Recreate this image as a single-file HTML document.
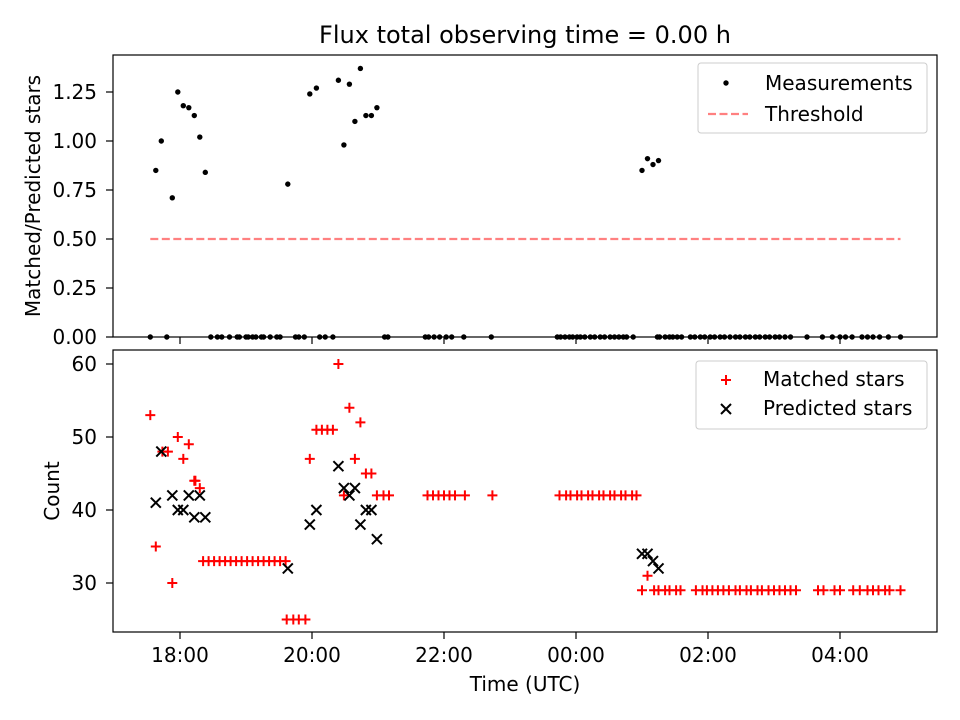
<!DOCTYPE html>
<html><head><meta charset="utf-8"><style>
body{margin:0;background:#fff}
svg{display:block;font-family:"DejaVu Sans","Liberation Sans",sans-serif}
</style></head><body>
<svg id="c" width="960" height="720" viewBox="0 0 960 720"></svg>
<script>
// minutes from 18:00
const ratioTimes=[-22,-17,-7,-2,3,8,13,18,23,98,118,124,144,149,154,159,164,169,174,179,420,425,430,435];
const ratioValues=[0.85,1.0,0.71,1.25,1.18,1.17,1.13,1.02,0.84,0.78,1.24,1.27,1.31,0.98,1.29,1.10,1.37,1.13,1.13,1.17,0.85,0.91,0.88,0.90];
const zeroTimes=[-27,-12,28,34,38,45,52,54,60,62,66,69,74,76,82,88,91,105,108,113,127,132,139,186,189,223,226,231,236,242,247,258,283,343,346,350,354,357,361,364,368,373,377,382,386,391,395,399,403,406,412,434,436,441,445,448,452,456,464,468,473,477,482,486,491,495,500,505,509,514,518,523,527,532,536,541,545,550,555,570,584,593,600,605,611,620,625,630,636,644,655];
const threshold=0.5;
const thresholdRange=[-27,655];
const matchedTimes=[-27,-22,-16,-11,-7,-2,3,8,13,18,14,21,26,31,36,41,46,51,56,61,66,71,76,81,86,91,96,97,103,108,114,118,124,129,134,139,144,149,154,159,164,169,174,179,185,190,225,230,235,240,245,250,259,284,345,351,355,361,365,371,375,381,385,391,395,401,405,411,415,425,420,431,435,441,445,451,455,469,475,479,484,489,494,499,505,509,515,519,525,529,535,540,545,550,555,560,580,585,595,600,612,618,625,630,635,641,645,655];
const matchedValues=[53,35,48,48,30,50,47,49,44,43,44,33,33,33,33,33,33,33,33,33,33,33,33,33,33,33,33,25,25,25,25,47,51,51,51,51,60,42,54,47,52,45,45,42,42,42,42,42,42,42,42,42,42,42,42,42,42,42,42,42,42,42,42,42,42,42,42,42,42,31,29,29,29,29,29,29,29,29,29,29,29,29,29,29,29,29,29,29,29,29,29,29,29,29,29,29,29,29,29,29,29,29,29,29,29,29,29,29];
const predTimes=[-22,-17,-7,-2,3,8,13,18,23,98,118,124,144,149,154,159,164,169,174,179,420,425,430,435];
const predValues=[41,48,42,40,40,42,39,42,39,32,38,40,46,43,42,43,38,40,40,36,34,34,33,32];
const xTickMin=[0,120,240,360,480,600];
const xTickLabels=["18:00","20:00","22:00","00:00","02:00","04:00"];
const topTicks=[0,0.25,0.5,0.75,1.0,1.25];
const botTicks=[30,40,50,60];

const S=document.getElementById('c'),NS="http://www.w3.org/2000/svg";
function el(t,a,p){const e=document.createElementNS(NS,t);for(const k in a)e.setAttribute(k,a[k]);(p||S).appendChild(e);return e;}
function tx(x,y,s,a,p){const e=el('text',Object.assign({x:x,y:y,'font-size':20,fill:'#000'},a||{}),p);e.textContent=s;return e;}
const X=m=>180+1.1*m;
const YT=r=>337-196*r;
const YB=c=>364+(60-c)*7.3;
const L=113,R=937;

const t=tx(525,43,"Flux total observing time = 0.00 h",{'font-size':24,'text-anchor':'middle'});


// top panel
const g1=el('g',{});
const th=el('line',{x1:X(thresholdRange[0]),x2:X(thresholdRange[1]),y1:YT(threshold),y2:YT(threshold),stroke:'#ff8080','stroke-width':2.2,'stroke-dasharray':'8,3.5'},g1);

zeroTimes.forEach(m=>{const c=el('circle',{cx:X(m),cy:YT(0),r:2.7,fill:'#000'},g1);});
ratioTimes.forEach((m,i)=>{const c=el('circle',{cx:X(m),cy:YT(ratioValues[i]),r:2.7,fill:'#000'},g1);});
el('rect',{x:L,y:55,width:R-L,height:282,fill:'none',stroke:'#000','stroke-width':1.2},g1);
topTicks.forEach(v=>{el('line',{x1:L-7,x2:L,y1:YT(v),y2:YT(v),stroke:'#000','stroke-width':1.2},g1);const l=tx(L-16,YT(v)+7,v.toFixed(2),{'text-anchor':'end'},g1);});
xTickMin.forEach(m=>el('line',{x1:X(m),x2:X(m),y1:337,y2:344,stroke:'#000','stroke-width':1.2},g1));
const yl1=tx(0,0,"Matched/Predicted stars",{'text-anchor':'middle',transform:'translate(40,196) rotate(-90)'});

const lg1=el('g',{});
el('rect',{x:698,y:63,width:229,height:70,rx:3,fill:'#fff',stroke:'#ccc'},lg1);
el('circle',{cx:726,cy:83,r:2.7,fill:'#000'},lg1);
tx(765,90,"Measurements",{},lg1);
el('line',{x1:708,x2:748,y1:114,y2:114,stroke:'#ff8080','stroke-width':2.2,'stroke-dasharray':'8,3.5'},lg1);
tx(765,121,"Threshold",{},lg1);

// bottom panel
const g2=el('g',{});
matchedTimes.forEach((m,i)=>{const x=X(m),y=YB(matchedValues[i]);const p=el('path',{d:`M${x-5},${y}H${x+5}M${x},${y-5}V${y+5}`,stroke:'#f00','stroke-width':2},g2);});
predTimes.forEach((m,i)=>{const x=X(m),y=YB(predValues[i]);const p=el('path',{d:`M${x-5},${y-5}L${x+5},${y+5}M${x-5},${y+5}L${x+5},${y-5}`,stroke:'#000','stroke-width':2},g2);});
el('rect',{x:L,y:350,width:R-L,height:282,fill:'none',stroke:'#000','stroke-width':1.2},g2);
botTicks.forEach(v=>{el('line',{x1:L-7,x2:L,y1:YB(v),y2:YB(v),stroke:'#000','stroke-width':1.2},g2);const l=tx(L-16,YB(v)+7,String(v),{'text-anchor':'end'},g2);});
xTickMin.forEach((m,i)=>{el('line',{x1:X(m),x2:X(m),y1:632,y2:639,stroke:'#000','stroke-width':1.2},g2);const l=tx(X(m),662,xTickLabels[i],{'text-anchor':'middle'},g2);});
const yl2=tx(0,0,"Count",{'text-anchor':'middle',transform:'translate(59,491) rotate(-90)'});

const xl=tx(525,691,"Time (UTC)",{'text-anchor':'middle'});

const lg2=el('g',{});
el('rect',{x:696,y:361,width:231,height:68,rx:3,fill:'#fff',stroke:'#ccc'},lg2);
el('path',{d:'M721,380H731M726,375V385',stroke:'#f00','stroke-width':2},lg2);
tx(763,386,"Matched stars",{},lg2);
el('path',{d:'M721,404L731,414M721,414L731,404',stroke:'#000','stroke-width':2},lg2);
tx(763,415,"Predicted stars",{},lg2);
</script>
</body></html>
